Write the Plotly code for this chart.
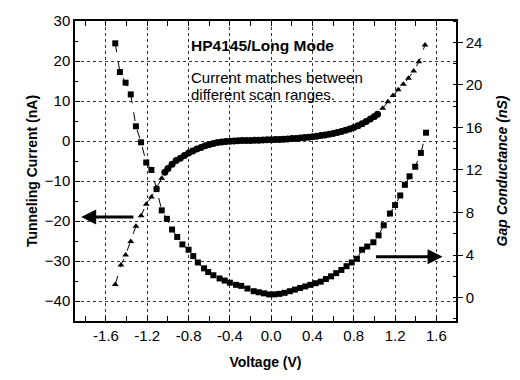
import plotly.graph_objects as go

# Tunneling current, long-range scan (triangles), left and right wings
tri_left_v = [-1.51, -1.455, -1.41, -1.36, -1.31, -1.26, -1.21, -1.16, -1.11, -1.06]
tri_left_i = [-35.9, -31.0, -28.5, -25.1, -21.3, -18.7, -15.8, -14.0, -11.7, -9.3]
tri_right_v = [1.08, 1.13, 1.18, 1.23, 1.28, 1.33, 1.38, 1.43, 1.49]
tri_right_i = [8.2, 9.8, 11.4, 12.8, 14.2, 15.7, 17.5, 19.8, 24.0]

# Tunneling current, short-range scan (dense markers)
dense_v = [-1.03, -1.00, -0.96, -0.92, -0.88, -0.84, -0.80, -0.76, -0.72, -0.68,
           -0.64, -0.60, -0.56, -0.52, -0.48, -0.44, -0.40, -0.36, -0.32, -0.28,
           -0.24, -0.20, -0.16, -0.12, -0.08, -0.04, 0.00, 0.04, 0.08, 0.12,
           0.16, 0.20, 0.24, 0.28, 0.32, 0.36, 0.40, 0.44, 0.48, 0.52,
           0.56, 0.60, 0.64, 0.68, 0.72, 0.76, 0.80, 0.84, 0.88, 0.92,
           0.96, 1.00, 1.03]
dense_i = [-7.8, -6.9, -5.8, -4.9, -4.3, -3.6, -3.0, -2.5, -2.0, -1.6,
           -1.2, -0.9, -0.6, -0.4, -0.25, -0.15, -0.05, 0.0, 0.05, 0.1,
           0.1, 0.15, 0.2, 0.2, 0.25, 0.3, 0.3, 0.35, 0.4, 0.45,
           0.5, 0.6, 0.65, 0.75, 0.85, 0.95, 1.05, 1.2, 1.35, 1.5,
           1.7, 1.9, 2.15, 2.4, 2.7, 3.0, 3.4, 3.8, 4.3, 4.9,
           5.5, 6.1, 6.7]

# Gap conductance (squares, right axis)
cond_v = [-1.51, -1.465, -1.41, -1.36, -1.31, -1.26, -1.21, -1.16, -1.11, -1.06,
          -1.01, -0.96, -0.91, -0.86, -0.80, -0.755, -0.71, -0.65, -0.61, -0.56,
          -0.50, -0.45, -0.40, -0.34, -0.29, -0.23, -0.17, -0.12, -0.07, -0.02,
          0.03, 0.08, 0.13, 0.18, 0.23, 0.28, 0.33, 0.38, 0.43, 0.48,
          0.53, 0.58, 0.63, 0.68, 0.73, 0.78, 0.83, 0.88, 0.93, 0.99,
          1.04, 1.09, 1.15, 1.20, 1.25, 1.295, 1.34, 1.395, 1.45, 1.50]
cond_g = [23.9, 21.2, 20.2, 19.1, 16.1, 14.6, 12.7, 12.0, 10.2, 8.2,
          7.4, 6.4, 5.7, 5.0, 4.5, 3.9, 3.3, 2.75, 2.4, 2.1,
          1.8, 1.6, 1.4, 1.2, 1.1, 0.85, 0.6, 0.5, 0.4, 0.3,
          0.3, 0.35, 0.45, 0.6, 0.75, 0.9, 1.05, 1.2, 1.35, 1.5,
          1.75, 2.0, 2.3, 2.6, 2.95, 3.3, 3.65, 4.5, 4.8, 5.2,
          5.85, 6.8, 7.9, 8.7, 9.6, 10.6, 11.4, 12.3, 13.6, 15.5]

FONT = "Liberation Sans, Arial, sans-serif"

fig = go.Figure()

fig.add_trace(go.Scatter(x=cond_v, y=cond_g, yaxis="y2", mode="lines+markers",
                         line=dict(color="black", width=1, dash="dash"),
                         marker=dict(symbol="square", size=6, color="black"),
                         showlegend=False))
fig.add_trace(go.Scatter(x=tri_left_v, y=tri_left_i, mode="lines+markers",
                         line=dict(color="black", width=1, dash="dash"),
                         marker=dict(symbol="triangle-up", size=6, color="black"),
                         showlegend=False))
fig.add_trace(go.Scatter(x=tri_right_v, y=tri_right_i, mode="lines+markers",
                         line=dict(color="black", width=1, dash="dash"),
                         marker=dict(symbol="triangle-up", size=6, color="black"),
                         showlegend=False))
fig.add_trace(go.Scatter(x=dense_v, y=dense_i, mode="lines+markers",
                         line=dict(color="black", width=4),
                         marker=dict(symbol="circle", size=7, color="black"),
                         showlegend=False))

grid = dict(showgrid=True, gridcolor="#333", gridwidth=1, griddash="dot")

fig.update_layout(
    width=520, height=380,
    margin=dict(l=75, r=61, t=16, b=56),
    paper_bgcolor="white", plot_bgcolor="white",
    font=dict(family=FONT, size=14, color="black"),
    xaxis=dict(range=[-1.9, 1.79], tickvals=[-1.6, -1.2, -0.8, -0.4, 0.0, 0.4, 0.8, 1.2, 1.6],
               ticktext=["-1.6", "-1.2", "-0.8", "-0.4", "0.0", "0.4", "0.8", "1.2", "1.6"],
               ticks="inside", ticklen=5, tickcolor="black", mirror="allticks",
               showline=True, linecolor="black", linewidth=1.5, zeroline=False,
               minor=dict(dtick=0.2, tick0=0, ticks="inside", ticklen=3, tickcolor="black", showgrid=False),
               title=dict(text="<b>Voltage (V)</b>", font=dict(size=14), standoff=14),
               tickfont=dict(size=15), **grid),
    yaxis=dict(range=[-45, 30], tickvals=[-40, -30, -20, -10, 0, 10, 20, 30],
               ticks="inside", ticklen=5, tickcolor="black",
               showline=True, linecolor="black", linewidth=1.5, zeroline=False,
               minor=dict(dtick=5, tick0=0, ticks="inside", ticklen=3, tickcolor="black", showgrid=False),
               title=dict(text="<b>Tunneling Current (nA)</b>", font=dict(size=14), standoff=4),
               tickfont=dict(size=15), **grid),
    yaxis2=dict(range=[-2.2, 26], overlaying="y", side="right",
                tickvals=[0, 4, 8, 12, 16, 20, 24],
                ticks="outside", ticklen=5, tickcolor="black",
                showline=True, linecolor="black", linewidth=1.5, zeroline=False, showgrid=False,
                minor=dict(dtick=2, tick0=0, ticks="inside", ticklen=3, tickcolor="black"),
                title=dict(text="<b><i>Gap Conductance (nS)</i></b>", font=dict(size=14), standoff=16),
                tickfont=dict(size=15)),
)

fig.add_annotation(x=0.298, y=1.0, xref="paper", yref="paper", xanchor="left", yanchor="middle",
                   yshift=-24, text="<b>HP4145/Long Mode</b>", showarrow=False,
                   font=dict(size=15.5, family=FONT))
fig.add_annotation(x=0.298, y=1.0, xref="paper", yref="paper", xanchor="left", yanchor="middle",
                   yshift=-56, text="Current matches between", showarrow=False,
                   font=dict(size=15, family=FONT))
fig.add_annotation(x=0.298, y=1.0, xref="paper", yref="paper", xanchor="left", yanchor="middle",
                   yshift=-73, text="different scan ranges.", showarrow=False,
                   font=dict(size=15, family=FONT))

# Arrows indicating which axis each curve belongs to
fig.add_annotation(x=-1.84, y=-19, ax=-1.32, ay=-19, xref="x", yref="y", axref="x", ayref="y",
                   text="", showarrow=True, arrowhead=2, arrowsize=1, arrowwidth=3, arrowcolor="black")
fig.add_annotation(x=1.66, y=3.85, ax=1.0, ay=3.85, xref="x", yref="y2", axref="x", ayref="y2",
                   text="", showarrow=True, arrowhead=2, arrowsize=1, arrowwidth=3, arrowcolor="black")

fig.write_html("out.html")
